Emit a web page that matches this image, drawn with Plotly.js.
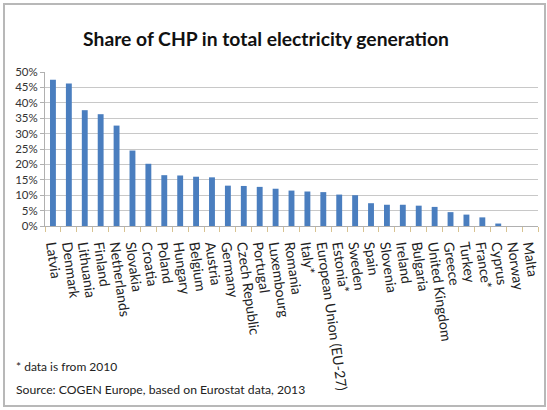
<!DOCTYPE html>
<html>
<head>
<meta charset="utf-8">
<script src="https://cdn.plot.ly/plotly-3.0.1.min.js"></script>
<style>
  html, body { margin: 0; padding: 0; background: #ffffff; }
  #wrap { position: relative; width: 547px; height: 410px; }
  #chart { position: absolute; left: 0; top: 0; width: 547px; height: 410px; }
  #frame { position: absolute; left: 3px; top: 3px; width: 539px; height: 400px;
           border: 2px solid #b8b8b8; pointer-events: none; }
</style>
</head>
<body>
<div id="wrap">
  <div id="chart"></div>
  <div id="frame"></div>
</div>
<script>
// Countries, in the order shown
const countries = [
  "Latvia", "Denmark", "Lithuania", "Finland", "Netherlands", "Slovakia",
  "Croatia", "Poland", "Hungary", "Belgium", "Austria", "Germany",
  "Czech Republic", "Portugal", "Luxembourg", "Romania", "Italy*",
  "European Union (EU-27)", "Estonia*", "Sweden", "Spain", "Slovenia",
  "Ireland", "Bulgaria", "United Kingdom", "Greece", "Turkey", "France*",
  "Cyprus", "Norway", "Malta"
];

// Share of CHP in total electricity generation, percent
const chpShare = [
  47.5, 46.3, 37.6, 36.3, 32.6, 24.5,
  20.2, 16.5, 16.4, 16.0, 15.8, 13.1,
  13.0, 12.7, 12.1, 11.5, 11.2,
  11.0, 10.2, 10.0, 7.4, 6.9,
  6.9, 6.6, 6.2, 4.5, 3.7, 2.8,
  0.8, 0, 0
];

const yTicks = [0, 5, 10, 15, 20, 25, 30, 35, 40, 45, 50];
const yTickText = yTicks.map((v) => v + "%");

const titleText = "Share of CHP in total electricity generation";
const footNote = "* data is from 2010";
const sourceNote = "Source: COGEN Europe, based on Eurostat data, 2013";

const FONT = "Lato, 'Open Sans', sans-serif";

// plot area in pixels: left 45, right 538, top 72, bottom 226
const M = { l: 45, r: 9, t: 72, b: 184 };
const plotW = 547 - M.l - M.r;
const plotH = 410 - M.t - M.b;
const px2x = (px) => (px - M.l) / plotW;
const py2y = (py) => (M.t + plotH - py) / plotH;

const trace = {
  type: "bar",
  x: countries,
  y: chpShare,
  marker: { color: "#4a7ebf", line: { width: 0 } },
  hoverinfo: "x+y"
};

const layout = {
  width: 547,
  height: 410,
  margin: M,
  paper_bgcolor: "#ffffff",
  plot_bgcolor: "#ffffff",
  showlegend: false,
  bargap: 0.63,
  font: { family: FONT, color: "#222222" },
  title: {
    text: titleText,
    font: { family: FONT, size: 19.3, color: "#111111", weight: "bold" },
    x: 266 / 547, xref: "container", xanchor: "center",
    y: 1 - 39 / 410, yanchor: "middle"
  },
  xaxis: {
    type: "category",
    tickmode: "array",
    tickvals: countries,
    ticktext: countries,
    tickangle: 82,
    tickfont: { family: FONT, size: 14, color: "#222222" },
    ticklabelstandoff: 5,
    showgrid: false,
    showline: true,
    linecolor: "#b0b0b0",
    linewidth: 1,
    ticks: "outside",
    tickson: "boundaries",
    ticklen: 5,
    tickcolor: "#d8c392",
    zeroline: false,
    automargin: false
  },
  yaxis: {
    range: [0, 50],
    tickmode: "array",
    tickvals: yTicks,
    ticktext: yTickText,
    tickfont: { family: FONT, size: 11.5, color: "#333333" },
    showgrid: true,
    gridcolor: "#c8c8c8",
    gridwidth: 1,
    showline: true,
    linecolor: "#b0b0b0",
    ticks: "outside",
    ticklen: 4,
    tickcolor: "#b0b0b0",
    zeroline: false,
    fixedrange: true,
    automargin: false
  },
  annotations: [
    {
      text: footNote, xref: "paper", yref: "paper",
      x: px2x(14), y: py2y(366), xanchor: "left", yanchor: "middle",
      showarrow: false, font: { family: FONT, size: 12, color: "#222222" }
    },
    {
      text: sourceNote, xref: "paper", yref: "paper",
      x: px2x(14), y: py2y(389), xanchor: "left", yanchor: "middle",
      showarrow: false, font: { family: FONT, size: 12.2, color: "#222222" }
    }
  ]
};

Plotly.newPlot("chart", [trace], layout, { displayModeBar: false, staticPlot: true });
</script>
</body>
</html>
